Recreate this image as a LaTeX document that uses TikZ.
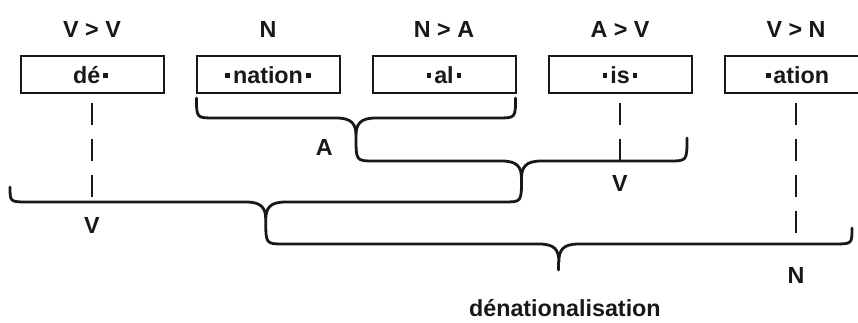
\documentclass[tikz,border=0pt]{standalone}
\usepackage{fontspec}
\setmainfont{Liberation Sans}
\usepackage{xcolor}
\usetikzlibrary{positioning, calc}
\definecolor{ink}{RGB}{24,24,24}

% morpheme boundary mark
\newcommand{\bd}{\kern0.12em\rule[0.22em]{0.21em}{0.21em}\kern0.12em}
% brace from #1 to #2, bar at the height of #3, tip named #4
\newcommand{\mbrace}[4]{%
  \draw[brc] let \p1=(#1), \p2=(#2), \p3=(#3), \n1={0.5*\x1+0.5*\x2} in
    (\p1) .. controls (\x1,\y3) .. (\x1+18,\y3) -- (\n1-20,\y3)
      .. controls (\n1-4,\y3) and (\n1,\y3-6) .. (\n1,\y3-18) coordinate (#4)
      .. controls (\n1,\y3-6) and (\n1+4,\y3) .. (\n1+20,\y3) -- (\x2-18,\y3)
      .. controls (\x2,\y3) .. (\p2);}

\begin{document}
\begin{tikzpicture}[x=1pt, y=1pt,
    box/.style={draw=ink, line width=2pt, minimum width=143pt, minimum height=37pt,
                inner sep=0pt, outer sep=0pt, text height=17pt, text depth=0pt,
                font=\fontsize{23.3}{28}\selectfont\bfseries, text=ink},
    lbl/.style={inner sep=0pt, text height=17pt, text depth=0pt,
                font=\fontsize{23.3}{28}\selectfont\bfseries, text=ink},
    brc/.style={draw=ink, line width=2.8pt, line cap=round},
    dsh/.style={draw=ink, line width=2.2pt, dash pattern=on 22pt off 14pt}
  ]
  \useasboundingbox (0,0) rectangle (858,322);
  % morphemes
  \node[box] (de) at (92,247.5) {dé\bd};
  \node[box, right=33pt of de] (nat) {\bd nation\bd};
  \node[box, right=33pt of nat] (al) {\bd al\bd};
  \node[box, right=33pt of al] (is) {\bd is\bd};
  \node[box, right=33pt of is] (atn) {\bd ation};
  \node[lbl, above=18pt of de] (de-cat) {V > V};
  \node[lbl, above=18pt of nat] (nat-cat) {N};
  \node[lbl, above=18pt of al] (al-cat) {N > A};
  \node[lbl, above=18pt of is] (is-cat) {A > V};
  \node[lbl, above=18pt of atn] (atn-cat) {V > N};

  % bar heights of the braces
  \coordinate (b1) at (0,204);
  \coordinate (b2) at (0,161);
  \coordinate (b3) at (0,120);
  \coordinate (b4) at (0,78);
  \coordinate (nat-l) at ($(nat.south west)+(0,-5)$);
  \coordinate (al-r) at ($(al.south east)+(0,-5)$);
  \coordinate (is-r) at (687,184);
  \coordinate (w-l) at (10,135);
  \coordinate (w-r) at (852,94);

  \mbrace{nat-l}{al-r}{b1}{tA}
  \mbrace{tA}{is-r}{b2}{tB}
  \mbrace{w-l}{tB}{b3}{tC}
  \mbrace{tC}{w-r}{b4}{tD}
  \draw[brc] (tD) -- ++(0,-8);

  % heads
  \coordinate (de-end) at (de.south |- b3);
  \coordinate (is-end) at (is.south |- b2);
  \coordinate (atn-end) at (atn.south |- b4);
  \draw[dsh, shorten <=10pt] (de) -- (de-end);
  \draw[dsh, shorten <=10pt] (is) -- (is-end);
  \draw[dsh, shorten <=10pt] (atn) -- (atn-end);

  \node[lbl, below left=2pt and 23pt of tA] (a-cat) {A};
  \node[lbl, below=14pt of de-end] (de-v) {V};
  \node[lbl, below=13pt of is-end] (is-v) {V};
  \node[lbl, below=22pt of atn-end] (atn-n) {N};
  \node[lbl, below=37pt of tD, xshift=6pt] (word) {dénationalisation};
\end{tikzpicture}
\end{document}
